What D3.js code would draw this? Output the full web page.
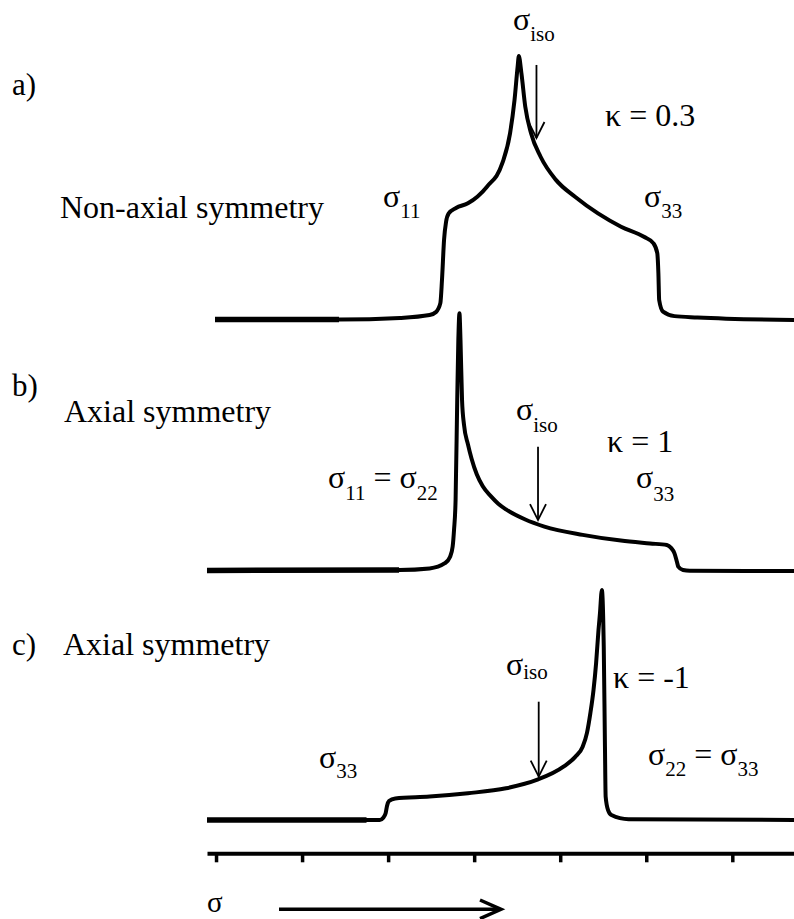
<!DOCTYPE html>
<html>
<head>
<meta charset="utf-8">
<script src="https://cdn.jsdelivr.net/npm/d3@7/dist/d3.min.js"></script>
<style>
  html, body { margin: 0; padding: 0; background: #fff; }
</style>
</head>
<body>
<svg id="chart" width="794" height="919" font-family="'Liberation Serif', 'Times New Roman', Tinos, 'DejaVu Serif', serif"></svg>
<script>
// Chemical shift axis (arbitrary units, one tick every 100)
const axisTicks = [0, 100, 200, 300, 400, 500, 600];

// Panel captions
const panelTags = ["a)", "b)", "c)"];
const symmetryNames = ["Non-axial symmetry", "Axial symmetry", "Axial symmetry"];
const kappaValues = ["0.3", "1", "-1"];

// Powder pattern a) kappa = 0.3 : shift, intensity
const shiftA = [-1.2, 142.9, 213.8, 248.2, 255.7, 260.7, 262.6, 265.0, 267.3, 270.4, 278.9, 292.7, 314.9, 332.7, 341.7, 346.9, 350.5, 351.9, 354.9, 359.4, 366.1, 377.2, 395.0, 417.2, 443.9, 470.7, 497.3, 508.4, 512.8, 514.1, 515.0, 519.5, 532.8, 559.5, 671.7];
const intensA = [0, 0, 0.6, 1.7, 2.9, 6.3, 15.2, 30.6, 37.5, 40.8, 42.9, 44.7, 51.1, 60.1, 71.6, 84.4, 97.2, 101.3, 94.7, 81.8, 71.6, 62.6, 53.7, 47.2, 40.8, 35.7, 31.8, 29.3, 25.5, 17.8, 7.5, 3.0, 1.3, 0.8, -0.2];

// Powder pattern b) kappa = 1
const shiftB = [-10.5, 212.7, 248.2, 266.0, 271.9, 275.0, 276.6, 278.4, 280.3, 281.6, 282.9, 284.1, 285.9, 288.2, 292.7, 297.0, 303.0, 310.0, 319.3, 328.0, 337.0, 359.4, 381.6, 426.1, 470.5, 504.4, 523.9, 528.8, 532.8, 535.7, 537.2, 542.7, 550.6, 671.7];
const intensB = [0, 0.2, 0.8, 2.8, 5.2, 9.2, 15.6, 27.1, 65.6, 88.7, 98.9, 88.7, 65.6, 56.0, 48.6, 43.0, 37.0, 32.4, 28.6, 25.7, 23.5, 19.6, 16.9, 13.7, 11.5, 10.4, 9.8, 8.7, 6.6, 3.3, 1.5, 0.2, -0.1, -0.2];

// Powder pattern c) kappa = -1
const shiftC = [-10.5, 174.9, 190.3, 194.1, 197.1, 198.7, 201.0, 208.3, 248.2, 292.7, 337.0, 372.7, 403.8, 417.2, 426.1, 431.1, 435.0, 438.7, 441.7, 444.5, 446.2, 448.4, 450.0, 450.6, 452.0, 452.8, 455.6, 459.5, 479.5, 671.7];
const intensC = [0, 0, 0, 0.8, 2.6, 5.4, 7.3, 8.3, 9.0, 10.3, 12.2, 15.4, 20.5, 24.2, 28.2, 33.5, 41.0, 50.0, 60.3, 73.1, 79.5, 88.5, 76.9, 66.7, 28.2, 9.0, 3.8, 1.9, 0.3, 0];

// Heavier stretch of each baseline (upper shift limit)
const heavyEnd = [142.9, 212.7, 174.9];

// Isotropic shift markers: shift, arrow tail and tip intensity
const isoShift = [372.4, 374.2, 375.0];
const isoTail = [97.9, 47.6, 45.5];
const isoTip = [69.8, 19.4, 16.7];

const svg = d3.select("#chart");

const x = d3.scaleLinear().domain([-10.5, 671.7]).range([207, 794]);
const baselines = [319.5, 570.5, 820];
const yScales = baselines.map(b => d3.scaleLinear().domain([0, 100]).range([b, b - 260]));

const series = [
  shiftA.map((s, i) => [s, intensA[i]]),
  shiftB.map((s, i) => [s, intensB[i]]),
  shiftC.map((s, i) => [s, intensC[i]])
];

series.forEach((pts, k) => {
  const y = yScales[k];
  const line = d3.line().x(d => x(d[0])).y(d => y(d[1])).curve(d3.curveMonotoneX);
  svg.append("path")
    .attr("d", line(pts))
    .attr("fill", "none")
    .attr("stroke", "#000")
    .attr("stroke-width", 4)
    .attr("stroke-linejoin", "round")
    .attr("stroke-linecap", "butt");
  const heavy = pts.filter(d => d[0] <= heavyEnd[k]);
  svg.append("path")
    .attr("d", line(heavy))
    .attr("fill", "none")
    .attr("stroke", "#000")
    .attr("stroke-width", 5.5);

  // isotropic shift arrow
  const ax = x(isoShift[k]);
  const y0 = y(isoTail[k]), y1 = y(isoTip[k]);
  const g = svg.append("g").attr("stroke", "#000").attr("stroke-width", 1.8).attr("fill", "none");
  g.append("line").attr("x1", ax).attr("x2", ax).attr("y1", y0).attr("y2", y1);
  g.append("path").attr("d", `M${ax - 8},${y1 - 16}L${ax},${y1}L${ax + 8},${y1 - 16}`);
});

// shift axis
const axis = d3.axisBottom(x).tickValues(axisTicks).tickSize(9).tickSizeOuter(0).tickFormat("");
const ag = svg.append("g").attr("transform", "translate(0,853.3)").call(axis);
ag.select(".domain").attr("stroke", "#000").attr("stroke-width", 4);
ag.selectAll(".tick line").attr("stroke", "#000").attr("stroke-width", 3.5);

// direction arrow under the axis
const dir = svg.append("g").attr("stroke", "#000").attr("stroke-width", 3.5).attr("fill", "none");
dir.append("line").attr("x1", 279).attr("x2", 500).attr("y1", 909.3).attr("y2", 909.3);
dir.append("path").attr("d", "M480,900L501,909.3L480,918.6").attr("stroke-linejoin", "miter");

svg.append("text").attr("x", 207).attr("y", 912).attr("font-size", 29).text("σ");

// captions
const tagY = [95, 396, 655];
const nameX = [60, 64, 63];
const nameY = [218, 422, 655];
panelTags.forEach((t, i) => {
  svg.append("text").attr("x", 12).attr("y", tagY[i]).attr("font-size", 31).text(t);
  svg.append("text").attr("x", nameX[i]).attr("y", nameY[i]).attr("font-size", 32).text(symmetryNames[i]);
});

const kappaPos = [[605, 126], [607, 452], [613, 688]];
kappaValues.forEach((v, i) => {
  svg.append("text").attr("x", kappaPos[i][0]).attr("y", kappaPos[i][1]).attr("font-size", 32).text("κ = " + v);
});

// sigma labels with subscripts
function sigmaLabel(px, py, drop, parts) {
  const t = svg.append("text").attr("x", px).attr("y", py).attr("font-size", 32);
  let down = false;
  parts.forEach(p => {
    if (p.sub) {
      t.append("tspan").attr("dy", down ? 0 : drop).attr("font-size", 21).text(p.sub);
      down = true;
    } else {
      t.append("tspan").attr("dy", down ? -drop : 0).text(p.txt);
      down = false;
    }
  });
}

sigmaLabel(513, 30, 11, [{txt: "σ"}, {sub: "iso"}]);
sigmaLabel(383, 207, 11, [{txt: "σ"}, {sub: "11"}]);
sigmaLabel(644, 207, 11, [{txt: "σ"}, {sub: "33"}]);

sigmaLabel(516, 420, 12, [{txt: "σ"}, {sub: "iso"}]);
sigmaLabel(328, 488, 12, [{txt: "σ"}, {sub: "11"}, {txt: " = σ"}, {sub: "22"}]);
sigmaLabel(636, 488, 13, [{txt: "σ"}, {sub: "33"}]);

sigmaLabel(506, 675, 4, [{txt: "σ"}, {sub: "iso"}]);
sigmaLabel(648, 765, 11, [{txt: "σ"}, {sub: "22"}, {txt: " = σ"}, {sub: "33"}]);
sigmaLabel(319, 768, 10, [{txt: "σ"}, {sub: "33"}]);
</script>
</body>
</html>
